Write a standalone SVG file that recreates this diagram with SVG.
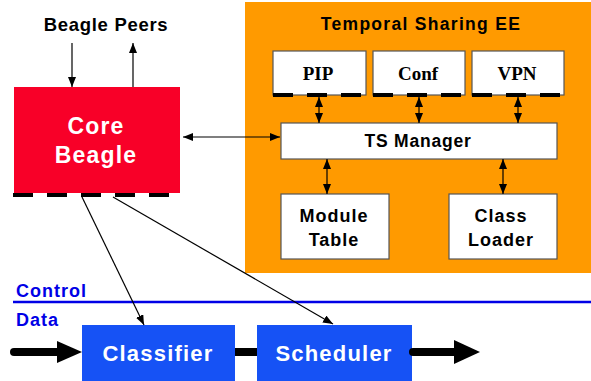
<svg xmlns="http://www.w3.org/2000/svg" width="591" height="381" viewBox="0 0 591 381">
<defs>
<marker id="ah" markerWidth="10" markerHeight="8" refX="10" refY="4" orient="auto-start-reverse" markerUnits="userSpaceOnUse">
<path d="M0,0 L10,4 L0,8 Z" fill="#000"/>
</marker>
<style>
.b{font-family:"Liberation Sans",Arial,sans-serif;font-weight:bold;text-anchor:middle}
.s{font-family:"Liberation Serif","Times New Roman",serif;font-weight:bold;text-anchor:middle;font-size:19px}
.wb{fill:#fff;stroke:#555;stroke-width:1.2}
.dash{stroke:#000;stroke-width:4;stroke-dasharray:20 14}
.ln{stroke:#000;stroke-width:1.2;fill:none}
.blue{fill:#1652F5}
.cd{font-family:"Liberation Sans",Arial,sans-serif;font-weight:bold;font-size:18px;fill:#0000E6;letter-spacing:1px}
</style>
</defs>
<rect width="591" height="381" fill="#fff"/>

<g id="ts-ee">
<rect x="245" y="2" width="346" height="271" fill="#FF9A00"/>
<text class="b" x="421" y="30" font-size="17.5" letter-spacing="1.3">Temporal Sharing EE</text>
</g>

<g id="core-beagle">
<rect x="14" y="87" width="166" height="106" fill="#F80028"/>
<line class="dash" x1="13" y1="195" x2="181" y2="195"/>
<text class="b" x="96" y="134" font-size="23" fill="#fff" letter-spacing="1.2">Core</text>
<text class="b" x="96" y="163" font-size="23" fill="#fff" letter-spacing="1.2">Beagle</text>
</g>

<g id="beagle-peers">
<text class="b" x="106" y="31" font-size="18.5" letter-spacing="0.7">Beagle Peers</text>
</g>

<g id="pip">
<rect class="wb" x="273" y="51" width="93" height="44"/>
<line class="dash" x1="273" y1="95" x2="366" y2="95"/>
<text class="s" x="318" y="80">PIP</text>
</g>
<g id="conf">
<rect class="wb" x="373" y="51" width="92" height="44"/>
<line class="dash" x1="373" y1="95" x2="465" y2="95"/>
<text class="s" x="418" y="80">Conf</text>
</g>
<g id="vpn">
<rect class="wb" x="472" y="51" width="92" height="44"/>
<line class="dash" x1="472" y1="95" x2="564" y2="95"/>
<text class="s" x="517" y="80">VPN</text>
</g>

<g id="ts-manager">
<rect class="wb" x="281" y="123" width="276" height="36"/>
<text class="b" x="418" y="147" font-size="17.5" letter-spacing="0.8">TS Manager</text>
</g>

<g id="module-table">
<rect class="wb" x="281" y="194" width="108" height="65"/>
<text class="b" x="334" y="222" font-size="18" letter-spacing="1">Module</text>
<text class="b" x="334" y="246" font-size="18" letter-spacing="1">Table</text>
</g>

<g id="class-loader">
<rect class="wb" x="449" y="194" width="108" height="65"/>
<text class="b" x="501" y="222" font-size="18" letter-spacing="1">Class</text>
<text class="b" x="501" y="246" font-size="18" letter-spacing="1">Loader</text>
</g>

<g id="control-data">
<line x1="13" y1="302" x2="591" y2="302" stroke="#0000E6" stroke-width="2.5"/>
<text class="cd" x="16" y="297">Control</text>
<text class="cd" x="16" y="326">Data</text>
</g>

<g id="classifier">
<rect class="blue" x="82" y="325" width="153" height="56"/>
<text class="b" x="158" y="361" font-size="22" fill="#fff" letter-spacing="1.2">Classifier</text>
</g>

<g id="scheduler">
<rect class="blue" x="257" y="325" width="155" height="56"/>
<text class="b" x="334" y="361" font-size="22" fill="#fff" letter-spacing="1.2">Scheduler</text>
</g>

<g id="connectors">
<line class="ln" x1="72" y1="43" x2="72" y2="87" marker-end="url(#ah)"/>
<line class="ln" x1="133" y1="87" x2="133" y2="43" marker-end="url(#ah)"/>
<line class="ln" x1="183" y1="137" x2="280" y2="137" marker-start="url(#ah)" marker-end="url(#ah)"/>
<line class="ln" x1="319" y1="97" x2="319" y2="123" marker-start="url(#ah)" marker-end="url(#ah)"/>
<line class="ln" x1="419" y1="97" x2="419" y2="123" marker-start="url(#ah)" marker-end="url(#ah)"/>
<line class="ln" x1="518" y1="97" x2="518" y2="123" marker-start="url(#ah)" marker-end="url(#ah)"/>
<line class="ln" x1="327" y1="159" x2="327" y2="194" marker-start="url(#ah)" marker-end="url(#ah)"/>
<line class="ln" x1="503" y1="159" x2="503" y2="194" marker-start="url(#ah)" marker-end="url(#ah)"/>
<line class="ln" x1="82" y1="197" x2="144" y2="325" marker-end="url(#ah)"/>
<line class="ln" x1="113" y1="197" x2="333" y2="324" marker-end="url(#ah)"/>
<line x1="14" y1="352" x2="60" y2="352" stroke="#000" stroke-width="8" stroke-linecap="round"/>
<path d="M57,341 L82,352 L57,363 Z" fill="#000"/>
<line x1="235" y1="352" x2="257" y2="352" stroke="#000" stroke-width="8"/>
<line x1="413" y1="352" x2="457" y2="352" stroke="#000" stroke-width="8" stroke-linecap="round"/>
<path d="M454,340 L480,352 L454,364 Z" fill="#000"/>
</g>
</svg>
